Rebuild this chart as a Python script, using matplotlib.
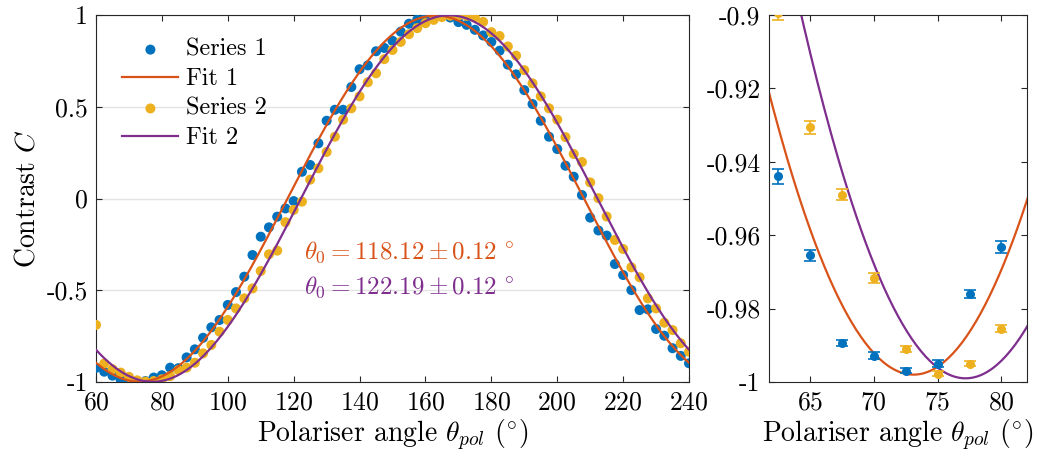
import numpy as np
import matplotlib
matplotlib.use("Agg")
import matplotlib.pyplot as plt

plt.rcParams['font.family'] = 'serif'
plt.rcParams['font.serif'] = ['cmr10']
plt.rcParams['mathtext.fontset'] = 'cm'
plt.rcParams['axes.unicode_minus'] = False
plt.rcParams['axes.formatter.use_mathtext'] = True

# polariser angles (deg), one point every 2.5 deg
angle = [60 + 2.5 * i for i in range(73)]

series1 = [-0.923, -0.9439, -0.9655, -0.9894, -0.9928, -0.9969, -0.9950, -0.9760, -0.9633,
           -0.922, -0.925, -0.866, -0.822, -0.759, -0.702, -0.662, -0.580, -0.510,
           -0.426, -0.308, -0.208, -0.157, -0.099, -0.054, -0.014, 0.146, 0.183,
           0.301, 0.424, 0.484, 0.484, 0.608, 0.705, 0.726, 0.803, 0.821,
           0.860, 0.910, 0.953, 0.975, 0.986, 0.997, 0.996, 0.987, 0.962,
           0.947, 0.920, 0.889, 0.854, 0.806, 0.730, 0.677, 0.591, 0.515,
           0.424, 0.337, 0.270, 0.179, 0.119, 0.019, -0.104, -0.174, -0.202,
           -0.357, -0.417, -0.499, -0.608, -0.604, -0.711, -0.748, -0.816, -0.858,
           -0.898]

series2 = [-0.689, -0.8995, -0.9306, -0.9489, -0.9717, -0.9910, -0.9978, -0.9950, -0.9855,
           -0.968, -0.935, -0.922, -0.895, -0.844, -0.798, -0.726, -0.662, -0.599,
           -0.544, -0.490, -0.395, -0.304, -0.284, -0.129, -0.062, -0.017, 0.103,
           0.165, 0.254, 0.337, 0.430, 0.492, 0.557, 0.634, 0.683, 0.760,
           0.810, 0.854, 0.896, 0.929, 0.956, 0.974, 0.989, 0.997, 0.998,
           0.996, 0.987, 0.963, 0.907, 0.886, 0.829, 0.779, 0.700, 0.628,
           0.557, 0.492, 0.430, 0.335, 0.243, 0.199, 0.088, 0.002, -0.098,
           -0.226, -0.275, -0.375, -0.429, -0.544, -0.599, -0.677, -0.717, -0.789,
           -0.835]

# error bars for the points shown in the zoomed panel (62.5 .. 80 deg)
err1 = [0.0020, 0.0016, 0.0009, 0.0009, 0.0007, 0.0009, 0.0011, 0.0016]
err2 = [0.0017, 0.0018, 0.0014, 0.0013, 0.0009, 0.0007, 0.0007, 0.0009]

# fit parameters: C = A sin(2(theta - theta0))
theta0 = [118.12, 122.19]
theta0_err = [0.12, 0.12]
amp = [0.998, 0.999]

left_yticks = [-1, -0.5, 0, 0.5, 1]
left_yticklabels = ['-1', '-0.5', '0', '0.5', '1']
left_xticks = [60, 80, 100, 120, 140, 160, 180, 200, 220, 240]
right_yticks = [-1, -0.98, -0.96, -0.94, -0.92, -0.9]
right_yticklabels = ['-1', '-0.98', '-0.96', '-0.94', '-0.92', '-0.9']
right_xticks = [65, 70, 75, 80]

blue = '#0072BD'
orange = '#D95319'
yellow = '#EDB120'
purple = '#7E2F8E'
axcol = '#262626'

t_fit = np.linspace(60, 240, 1000)
fit1 = amp[0] * np.sin(np.deg2rad(2 * (t_fit - theta0[0])))
fit2 = amp[1] * np.sin(np.deg2rad(2 * (t_fit - theta0[1])))

fig = plt.figure(figsize=(10.38, 4.58), dpi=100)
ax1 = fig.add_axes([0.0925, 0.166, 0.5713, 0.801])
ax2 = fig.add_axes([0.7408, 0.166, 0.2486, 0.801])

# main panel
ax1.scatter(angle, series1, s=52, color=blue, edgecolors='none', label='Series 1', zorder=3)
ax1.plot(t_fit, fit1, color=orange, lw=1.6, label='Fit 1', zorder=4)
ax1.scatter(angle, series2, s=52, color=yellow, edgecolors='none', label='Series 2', zorder=3)
ax1.plot(t_fit, fit2, color=purple, lw=1.6, label='Fit 2', zorder=4)

ax1.set_xlim(60, 240)
ax1.set_ylim(-1, 1)
ax1.set_xticks(left_xticks)
ax1.set_yticks(left_yticks)
ax1.set_yticklabels(left_yticklabels)
ax1.yaxis.grid(True, color='#e3e3e3', lw=1)
ax1.set_axisbelow(True)
ax1.set_xlabel(r'Polariser angle $\theta_{pol}$ ($^{\circ}$)', fontsize=20, labelpad=3)
ax1.set_ylabel(r'Contrast $C$', fontsize=20, labelpad=4)

ax1.text(123.0, -0.292, r'$\theta_0 = %.2f \pm %.2f\ ^{\circ}$' % (theta0[0], theta0_err[0]),
         color=orange, fontsize=18, va='center', ha='left')
ax1.text(123.0, -0.482, r'$\theta_0 = %.2f \pm %.2f\ ^{\circ}$' % (theta0[1], theta0_err[1]),
         color=purple, fontsize=18, va='center', ha='left')

ax1.legend(loc='upper left', bbox_to_anchor=(0.02, 0.975), frameon=False, fontsize=17.5,
           handlelength=2.3, handletextpad=0.3, labelspacing=0.3, borderaxespad=0.2)

# zoomed panel
ax2.plot(t_fit, fit1, color=orange, lw=1.6, zorder=2)
ax2.plot(t_fit, fit2, color=purple, lw=1.6, zorder=2)
ax2.errorbar(angle[1:9], series1[1:9], yerr=err1, fmt='o', color=blue, ms=6.5,
             mec='none', capsize=4, elinewidth=1.2, capthick=1.2, zorder=3)
ax2.errorbar(angle[1:9], series2[1:9], yerr=err2, fmt='o', color=yellow, ms=6.5,
             mec='none', capsize=4, elinewidth=1.2, capthick=1.2, zorder=3)
ax2.set_xlim(61.8, 82)
ax2.set_ylim(-1, -0.9)
ax2.set_xticks(right_xticks)
ax2.set_yticks(right_yticks)
ax2.set_yticklabels(right_yticklabels)
ax2.set_xlabel(r'Polariser angle $\theta_{pol}$ ($^{\circ}$)', fontsize=20, labelpad=3)

for ax in (ax1, ax2):
    ax.tick_params(direction='in', top=True, right=True, length=4, width=0.8,
                   labelsize=18.5, colors=axcol, labelcolor='black')
    ax.tick_params(axis='x', pad=6)
    ax.tick_params(axis='y', pad=6)
    for sp in ax.spines.values():
        sp.set_color(axcol)
        sp.set_linewidth(0.8)

fig.savefig('out.png', dpi=100)
